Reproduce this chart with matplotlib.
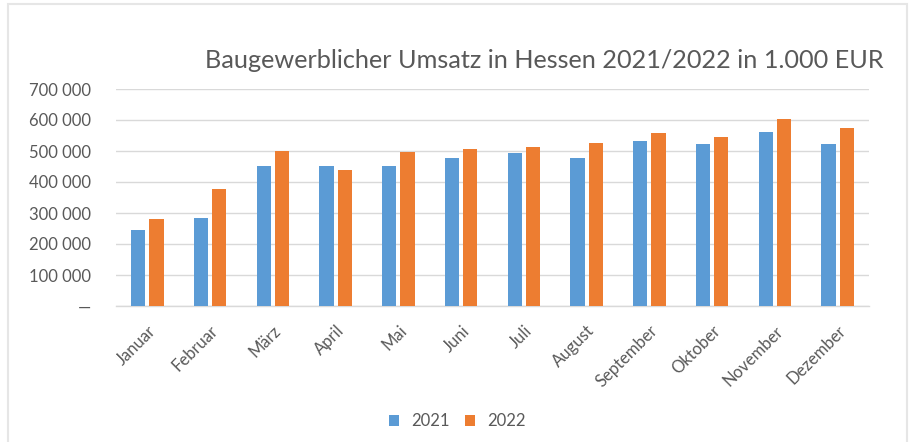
import numpy as np
import matplotlib.pyplot as plt
from matplotlib.patches import Rectangle
from matplotlib.ticker import FuncFormatter

plt.rcParams['font.family'] = ['Lato', 'DejaVu Sans']

months = ['Januar', 'Februar', 'März', 'April', 'Mai', 'Juni', 'Juli',
          'August', 'September', 'Oktober', 'November', 'Dezember']
umsatz_2021 = [246000, 284000, 453000, 453000, 453000, 479000, 495000,
               478000, 533000, 522000, 562000, 523000]
umsatz_2022 = [280000, 376000, 500000, 440000, 496000, 505000, 514000,
               525000, 557000, 546000, 604000, 575000]
y_ticks = [0, 100000, 200000, 300000, 400000, 500000, 600000, 700000]

blue = '#5B9BD5'
orange = '#ED7D31'
grid_col = '#D9D9D9'
text_col = '#595959'

W, H = 911, 442
fig = plt.figure(figsize=(W / 100, H / 100), dpi=100)

# faint frame round the chart area
fig.patches.append(Rectangle((8 / W, -0.01), (907 - 8) / W, 1 - 4 / H + 0.01,
                             transform=fig.transFigure, fill=False,
                             edgecolor='#E6E6E6', linewidth=1.5))

ax = fig.add_axes([116 / W, (H - 306) / H, (869 - 116) / W, (306 - 89) / H])

x = np.arange(len(months))
bw = 0.23
off = 0.145
ax.bar(x - off, umsatz_2021, width=bw, color=blue, label='2021', zorder=3)
ax.bar(x + off, umsatz_2022, width=bw, color=orange, label='2022', zorder=3)

ax.set_xlim(-0.5, len(months) - 0.5)
ax.set_ylim(0, 700000)
ax.set_yticks(y_ticks)


def fmt(v, pos):
    if v == 0:
        return '—'
    return f'{int(v):,}'.replace(',', ' ')


ax.yaxis.set_major_formatter(FuncFormatter(fmt))
ax.grid(axis='y', color=grid_col, linewidth=1, zorder=0)
for s in ['top', 'right', 'left']:
    ax.spines[s].set_visible(False)
ax.spines['bottom'].set_color(grid_col)
ax.spines['bottom'].set_linewidth(1)

ax.set_xticks(x)
ax.set_xticklabels(months, rotation=45, ha='right', va='top', rotation_mode='anchor')
ax.tick_params(axis='x', length=0, pad=12, labelsize=12, labelcolor=text_col)
ax.tick_params(axis='y', length=0, pad=18, labelsize=12, labelcolor=text_col)

fig.text(544 / W, 1 - 61 / H, 'Baugewerblicher Umsatz in Hessen 2021/2022 in 1.000 EUR',
         ha='center', va='center', fontsize=18.2, color=text_col)

leg = fig.legend(loc='center', bbox_to_anchor=(457 / W, 1 - 421 / H), ncol=2,
                 frameon=False, fontsize=12, handlelength=0.65, handleheight=0.65,
                 handletextpad=0.7, columnspacing=0.9)
for t in leg.get_texts():
    t.set_color(text_col)

fig.savefig('out.png', dpi=100)
